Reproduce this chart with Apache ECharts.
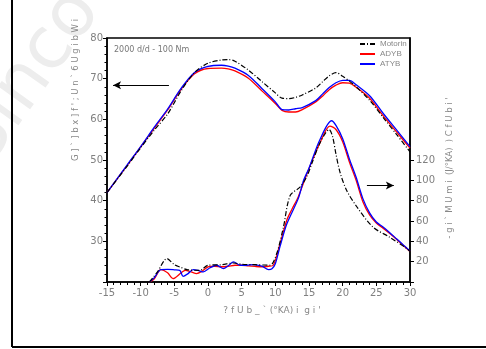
<!DOCTYPE html>
<html>
<head>
<meta charset="utf-8">
<script src="https://cdn.jsdelivr.net/npm/echarts@6/dist/echarts.min.js"></script>
<style>
  html, body { margin: 0; padding: 0; background: #fff; }
  #main { width: 486px; height: 349px; }
</style>
</head>
<body>
<div id="main"></div>
<script>
var chartDom = document.getElementById('main');
var myChart = echarts.init(chartDom);

// crank angle (°KA) points for the pressure curves
var angleP = [-15, -12, -10, -8, -6, -4, -2, 0, 2, 3, 4, 6, 8, 10, 11, 12, 13, 14, 16, 17, 18, 19, 20, 21, 22, 24, 26, 28, 30];
var pMotorin = [42, 48.5, 53, 57.3, 61.3, 67.0, 71.5, 73.8, 74.6, 74.7, 74.3, 72.1, 69.3, 66.5, 65.2, 65.1, 65.4, 66.0, 67.7, 69.2, 70.7, 71.5, 70.6, 69.4, 68.0, 64.7, 60.5, 56.3, 52.0];
var pADYB    = [42, 48.7, 53.2, 57.8, 62.3, 67.4, 71.2, 72.5, 72.6, 72.4, 71.9, 70.1, 67.0, 63.9, 62.2, 61.8, 61.8, 62.4, 64.3, 65.7, 67.3, 68.4, 69.0, 68.9, 67.9, 65.2, 60.9, 56.9, 52.9];
var pATYB    = [42, 48.8, 53.3, 58.0, 62.5, 67.6, 71.5, 73.0, 73.3, 73.1, 72.6, 70.8, 67.6, 64.3, 62.4, 62.3, 62.6, 62.9, 64.6, 66.2, 67.8, 69.0, 69.6, 69.6, 68.5, 65.8, 61.5, 57.4, 53.3];

// heat release rate (J/°KA)
var angleMotorin = [-8.7, -7.5, -6.1, -5, -4.2, -3, -1.2, 0, 2, 3.8, 5, 7, 9.2, 10.2, 11.2, 12.2, 13.7, 14.7, 15.5, 16.5, 17.5, 18, 18.5, 19, 19.6, 20.6, 22.1, 24.5, 27, 29.5, 30];
var qMotorin     = [0, 10, 23, 17, 14.8, 12, 11.5, 16.5, 17, 18.7, 17.5, 17, 16.5, 28, 54, 85, 93.6, 104, 118, 135, 147, 150, 143, 126, 108, 90, 74, 54, 44, 33, 30];
var angleADYB = [-8.7, -8, -7, -6, -5.2, -4, -3.4, -2.5, -1.7, -0.8, 0, 1, 2, 3, 4, 5, 6, 7, 8, 9, 9.7, 10.7, 11.7, 12.5, 13.4, 14.9, 16.6, 18.1, 19, 20, 21, 22, 23, 24, 25, 26, 27, 28, 29, 30];
var qADYB     = [0, 3, 12.2, 9, 3.3, 9, 11.5, 10, 8.3, 11, 14.8, 15.5, 15, 15.5, 16.5, 16.5, 15.8, 15.3, 15, 15.5, 16.5, 37.8, 60.8, 72, 83.7, 110, 136.4, 153.4, 150, 138, 118, 100, 79, 66, 58, 53, 47.7, 42, 36, 30];
var angleATYB = [-8.7, -8, -7, -6, -5, -4.2, -3.7, -3, -2.2, -1.5, -0.7, 0.3, 1.3, 2.3, 3, 3.8, 4.75, 5.75, 6.7, 8, 9, 9.5, 10, 10.7, 11.7, 13.4, 14.2, 15, 16.6, 18.35, 19, 20, 21, 22, 23, 24, 25, 26, 27, 28, 29, 30];
var qATYB     = [0, 4, 12.2, 12.4, 12, 11.5, 5.6, 8, 12.2, 11.5, 9.9, 14, 16.5, 13.2, 16, 19.7, 16.5, 16.5, 17.1, 15.5, 12.2, 13, 18, 35, 57, 82, 100, 112, 139.6, 158.6, 154, 141, 121, 103, 82, 68, 59, 54, 48.5, 42.5, 36.5, 30.5];

var seriesNames = ['Motorin', 'ADYB', 'ATYB'];
var seriesColors = ['#000000', '#ff0000', '#0000ff'];

function pairs(xs, ys) {
  return xs.map(function (x, i) { return [x, ys[i]]; });
}

var labelFont = { fontFamily: 'DejaVu Sans', fontSize: 10, color: '#808080' };
var black = { color: '#000', width: 1.5 };

var option = {
  animation: false,
  textStyle: { fontFamily: 'DejaVu Sans' },
  grid: [
    { left: 107, right: 76, top: 38, bottom: 67, show: true, borderColor: '#000', borderWidth: 1.5 },
    { left: 107, right: 76, top: 160, bottom: 67 }
  ],
  legend: {
    data: seriesNames,
    orient: 'vertical',
    left: 359,
    top: 40,
    itemWidth: 15,
    itemHeight: 8,
    itemGap: 2,
    padding: 0,
    itemStyle: { color: 'rgba(0,0,0,0)', borderWidth: 0 },
    textStyle: { fontFamily: 'Liberation Sans', fontSize: 8, color: '#888' }
  },
  xAxis: [
    {
      type: 'value', min: -15, max: 30, interval: 5,
      axisLine: { onZero: false, lineStyle: black },
      axisTick: { length: 4, lineStyle: { color: '#000' } },
      minorTick: { show: true, splitNumber: 5, length: 3, lineStyle: { color: '#000' } },
      axisLabel: Object.assign({ margin: 6 }, labelFont),
      splitLine: { show: false }
    },
    { type: 'value', gridIndex: 1, min: -15, max: 30, show: false }
  ],
  yAxis: [
    {
      type: 'value', min: 20, max: 80, interval: 10,
      axisLine: { show: true, onZero: false, lineStyle: black },
      axisTick: { length: 4, lineStyle: { color: '#000' } },
      minorTick: { show: true, splitNumber: 5, length: 2.5, lineStyle: { color: '#000' } },
      axisLabel: Object.assign({ margin: 4, formatter: function (v) { return v === 20 ? '' : v; } }, labelFont),
      splitLine: { show: false }
    },
    {
      type: 'value', position: 'right', min: 0, max: 240, interval: 20,
      axisLine: { show: true, onZero: false, lineStyle: black },
      axisTick: { show: false },
      axisLabel: { show: false },
      splitLine: { show: false }
    },
    {
      // ticks and labels drawn only for the 0-120 part of the right axis
      type: 'value', gridIndex: 1, position: 'right', min: 0, max: 120, interval: 20,
      axisLine: { show: false, onZero: false },
      axisTick: { length: 4, lineStyle: { color: '#000' } },
      axisLabel: Object.assign({ margin: 6, formatter: function (v) { return v === 0 ? '' : v; } }, labelFont),
      splitLine: { show: false }
    }
  ],
  graphic: [
    {
      type: 'text', x: 2, y: 178, rotation: 0.95, z: -10, silent: true,
      style: { text: 'Sinco', fontSize: 72, fontFamily: 'DejaVu Sans', fill: '#ededed', verticalAlign: 'bottom' }
    },
    { type: 'line', shape: { x1: 12, y1: 0, x2: 12, y2: 347 }, style: { stroke: '#000', lineWidth: 2 } },
    { type: 'line', shape: { x1: 12, y1: 347, x2: 486, y2: 347 }, style: { stroke: '#000', lineWidth: 2 } },
    {
      type: 'text', left: 114, top: 46,
      style: { text: '2000 d/d - 100 Nm', fontSize: 8, fontFamily: 'DejaVu Sans', fill: '#777' }
    },
    {
      type: 'text', x: 76, y: 90, rotation: Math.PI / 2,
      style: { text: "G ] ` ] b x ] f ' ; U n ` 6 U g i b W i", fontSize: 8.5, fontFamily: 'DejaVu Sans', fill: '#888', align: 'center', verticalAlign: 'middle' }
    },
    {
      type: 'text', x: 450, y: 168, rotation: Math.PI / 2,
      style: { text: "- g i ` M U m i  (J/°KA)  ) C f U b i '", fontSize: 8.5, fontFamily: 'DejaVu Sans', fill: '#888', align: 'center', verticalAlign: 'middle' }
    },
    {
      type: 'text', x: 272, y: 311,
      style: { text: "? f U b _ ` (°KA) i  g i '", fontSize: 9, fontFamily: 'DejaVu Sans', fill: '#888', align: 'center', verticalAlign: 'middle' }
    }
  ],
  series: [
    {
      name: 'Motorin', type: 'line', xAxisIndex: 0, yAxisIndex: 0, smooth: 0.3, symbol: 'none',
      lineStyle: { color: seriesColors[0], width: 1.2, type: [5, 2, 1, 2] },
      itemStyle: { color: seriesColors[0] },
      data: pairs(angleP, pMotorin),
      markLine: {
        silent: true, symbol: ['none', 'arrow'], symbolSize: [6, 8],
        label: { show: false },
        lineStyle: { color: '#000', width: 1, type: 'solid' },
        data: [[{ coord: [-5.8, 68.4] }, { coord: [-14.1, 68.4] }]]
      },
      z: 3
    },
    {
      name: 'ADYB', type: 'line', xAxisIndex: 0, yAxisIndex: 0, smooth: 0.3, symbol: 'none',
      lineStyle: { color: seriesColors[1], width: 1.3 }, itemStyle: { color: seriesColors[1] },
      data: pairs(angleP, pADYB), z: 2
    },
    {
      name: 'ATYB', type: 'line', xAxisIndex: 0, yAxisIndex: 0, smooth: 0.3, symbol: 'none',
      lineStyle: { color: seriesColors[2], width: 1.3 }, itemStyle: { color: seriesColors[2] },
      data: pairs(angleP, pATYB), z: 2
    },
    {
      name: 'Motorin', type: 'line', xAxisIndex: 0, yAxisIndex: 1, smooth: 0.3, symbol: 'none',
      lineStyle: { color: seriesColors[0], width: 1.2, type: [5, 2, 1, 2] }, itemStyle: { color: seriesColors[0] },
      data: pairs(angleMotorin, qMotorin),
      markLine: {
        silent: true, symbol: ['none', 'arrow'], symbolSize: [6, 8],
        label: { show: false },
        lineStyle: { color: '#000', width: 1, type: 'solid' },
        data: [[{ coord: [23.6, 95] }, { coord: [27.6, 95] }]]
      },
      z: 3
    },
    {
      name: 'ADYB', type: 'line', xAxisIndex: 0, yAxisIndex: 1, smooth: 0.3, symbol: 'none',
      lineStyle: { color: seriesColors[1], width: 1.3 }, itemStyle: { color: seriesColors[1] },
      data: pairs(angleADYB, qADYB), z: 2
    },
    {
      name: 'ATYB', type: 'line', xAxisIndex: 0, yAxisIndex: 1, smooth: 0.3, symbol: 'none',
      lineStyle: { color: seriesColors[2], width: 1.3 }, itemStyle: { color: seriesColors[2] },
      data: pairs(angleATYB, qATYB), z: 2
    }
  ]
};

myChart.setOption(option);
</script>
</body>
</html>
